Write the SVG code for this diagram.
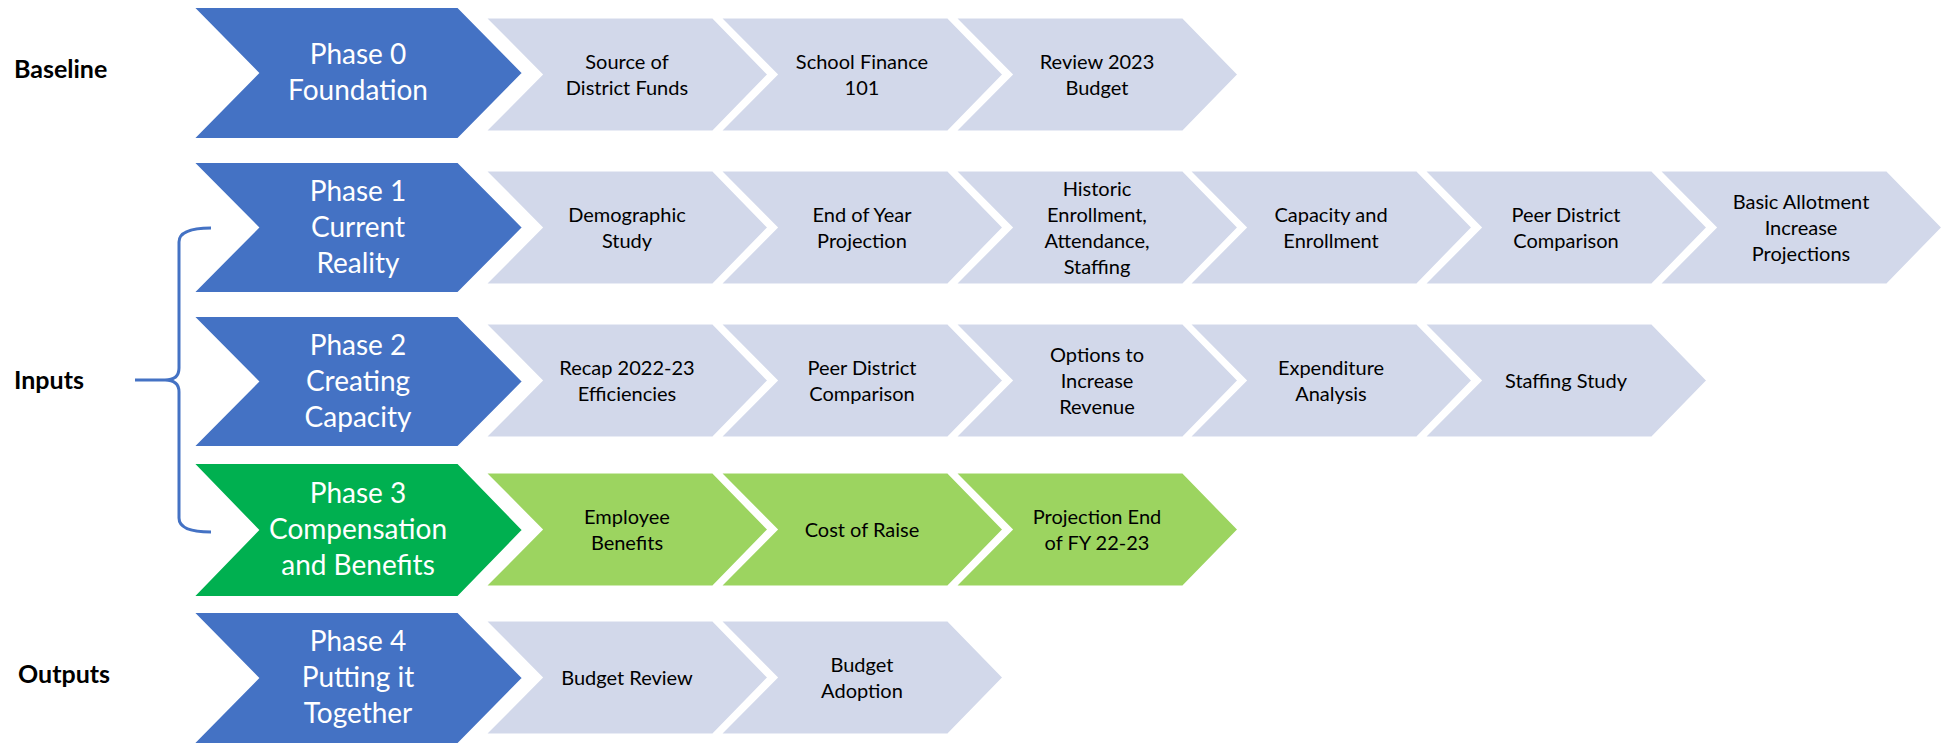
<svg xmlns="http://www.w3.org/2000/svg" width="1946" height="743" viewBox="0 0 1946 743">
<style>
.bg{fill:#ffffff}
.ph{fill:#4472C4;stroke:#ffffff;stroke-width:2}
.phg{fill:#00B050;stroke:#ffffff;stroke-width:2}
.st{fill:#D2D8EA;stroke:#ffffff;stroke-width:3}
.stg{fill:#9CD460;stroke:#ffffff;stroke-width:3}
.pt{font-family:Lato,"Open Sans","DejaVu Sans",sans-serif;font-size:28px;fill:#ffffff;text-anchor:middle}
.tt{font-family:Lato,"Open Sans","DejaVu Sans",sans-serif;font-size:20px;fill:#000000;text-anchor:middle}
.lb{font-family:Lato,"Liberation Sans",sans-serif;font-size:25px;font-weight:bold;fill:#000000}
.br{fill:none;stroke:#4472C4;stroke-width:3}
</style>
<rect class="bg" x="0" y="0" width="1946" height="743"/>
<g id="labels">
<text class="lb" x="14" y="78">Baseline</text>
<text class="lb" x="14" y="389">Inputs</text>
<text class="lb" x="18" y="683">Outputs</text>
</g>
<g id="connectors">
<path class="br" d="M211,228 Q179,228 179,242 L179,368 Q179,380 165,380 L135,380 M165,380 Q179,380 179,392 L179,518 Q179,532 211,532"/>
</g>
<!-- Row 0 -->
<g id="phase0">
<polygon class="ph" points="193,7 458,7 523,73 458,139 193,139 258,73"/>
<text class="pt" x="358" y="64">Phase 0</text>
<text class="pt" x="358" y="100">Foundation</text>
</g>
<g id="r0c0"><polygon class="st" points="484,17 713,17 769,74.5 713,132 484,132 541,74.5"/>
<text class="tt" x="627" y="68.5">Source of</text><text class="tt" x="627" y="94.5">District Funds</text></g>
<g id="r0c1"><polygon class="st" points="719,17 948,17 1004,74.5 948,132 719,132 776,74.5"/>
<text class="tt" x="862" y="68.5">School Finance</text><text class="tt" x="862" y="94.5">101</text></g>
<g id="r0c2"><polygon class="st" points="954,17 1183,17 1239,74.5 1183,132 954,132 1011,74.5"/>
<text class="tt" x="1097" y="68.5">Review 2023</text><text class="tt" x="1097" y="94.5">Budget</text></g>
<!-- Row 1 -->
<g id="phase1">
<polygon class="ph" points="193,162 458,162 523,227.5 458,293 193,293 258,227.5"/>
<text class="pt" x="358" y="201">Phase 1</text>
<text class="pt" x="358" y="237">Current</text>
<text class="pt" x="358" y="273">Reality</text>
</g>
<g id="r1c0"><polygon class="st" points="484,170 713,170 769,227.5 713,285 484,285 541,227.5"/>
<text class="tt" x="627" y="221.5">Demographic</text><text class="tt" x="627" y="247.5">Study</text></g>
<g id="r1c1"><polygon class="st" points="719,170 948,170 1004,227.5 948,285 719,285 776,227.5"/>
<text class="tt" x="862" y="221.5">End of Year</text><text class="tt" x="862" y="247.5">Projection</text></g>
<g id="r1c2"><polygon class="st" points="954,170 1183,170 1239,227.5 1183,285 954,285 1011,227.5"/>
<text class="tt" x="1097" y="195.5">Historic</text><text class="tt" x="1097" y="221.5">Enrollment,</text><text class="tt" x="1097" y="247.5">Attendance,</text><text class="tt" x="1097" y="273.5">Staffing</text></g>
<g id="r1c3"><polygon class="st" points="1188,170 1417,170 1473,227.5 1417,285 1188,285 1245,227.5"/>
<text class="tt" x="1331" y="221.5">Capacity and</text><text class="tt" x="1331" y="247.5">Enrollment</text></g>
<g id="r1c4"><polygon class="st" points="1423,170 1652,170 1708,227.5 1652,285 1423,285 1480,227.5"/>
<text class="tt" x="1566" y="221.5">Peer District</text><text class="tt" x="1566" y="247.5">Comparison</text></g>
<g id="r1c5"><polygon class="st" points="1658,170 1887,170 1943,227.5 1887,285 1658,285 1715,227.5"/>
<text class="tt" x="1801" y="208.5">Basic Allotment</text><text class="tt" x="1801" y="234.5">Increase</text><text class="tt" x="1801" y="260.5">Projections</text></g>
<!-- Row 2 -->
<g id="phase2">
<polygon class="ph" points="193,316 458,316 523,381.5 458,447 193,447 258,381.5"/>
<text class="pt" x="358" y="355">Phase 2</text>
<text class="pt" x="358" y="391">Creating</text>
<text class="pt" x="358" y="427">Capacity</text>
</g>
<g id="r2c0"><polygon class="st" points="484,323 713,323 769,380.5 713,438 484,438 541,380.5"/>
<text class="tt" x="627" y="374.5">Recap 2022-23</text><text class="tt" x="627" y="400.5">Efficiencies</text></g>
<g id="r2c1"><polygon class="st" points="719,323 948,323 1004,380.5 948,438 719,438 776,380.5"/>
<text class="tt" x="862" y="374.5">Peer District</text><text class="tt" x="862" y="400.5">Comparison</text></g>
<g id="r2c2"><polygon class="st" points="954,323 1183,323 1239,380.5 1183,438 954,438 1011,380.5"/>
<text class="tt" x="1097" y="361.5">Options to</text><text class="tt" x="1097" y="387.5">Increase</text><text class="tt" x="1097" y="413.5">Revenue</text></g>
<g id="r2c3"><polygon class="st" points="1188,323 1417,323 1473,380.5 1417,438 1188,438 1245,380.5"/>
<text class="tt" x="1331" y="374.5">Expenditure</text><text class="tt" x="1331" y="400.5">Analysis</text></g>
<g id="r2c4"><polygon class="st" points="1423,323 1652,323 1708,380.5 1652,438 1423,438 1480,380.5"/>
<text class="tt" x="1566" y="387.5">Staffing Study</text></g>
<!-- Row 3 -->
<g id="phase3">
<polygon class="phg" points="193,463 458,463 523,530 458,597 193,597 258,530"/>
<text class="pt" x="358" y="503">Phase 3</text>
<text class="pt" x="358" y="539">Compensation</text>
<text class="pt" x="358" y="575">and Benefits</text>
</g>
<g id="r3c0"><polygon class="stg" points="484,472 713,472 769,529.5 713,587 484,587 541,529.5"/>
<text class="tt" x="627" y="523.5">Employee</text><text class="tt" x="627" y="549.5">Benefits</text></g>
<g id="r3c1"><polygon class="stg" points="719,472 948,472 1004,529.5 948,587 719,587 776,529.5"/>
<text class="tt" x="862" y="536.5">Cost of Raise</text></g>
<g id="r3c2"><polygon class="stg" points="954,472 1183,472 1239,529.5 1183,587 954,587 1011,529.5"/>
<text class="tt" x="1097" y="523.5">Projection End</text><text class="tt" x="1097" y="549.5">of FY 22-23</text></g>
<!-- Row 4 -->
<g id="phase4">
<polygon class="ph" points="193,612 458,612 523,678 458,744 193,744 258,678"/>
<text class="pt" x="358" y="651">Phase 4</text>
<text class="pt" x="358" y="687">Putting it</text>
<text class="pt" x="358" y="723">Together</text>
</g>
<g id="r4c0"><polygon class="st" points="484,620 713,620 769,677.5 713,735 484,735 541,677.5"/>
<text class="tt" x="627" y="684.5">Budget Review</text></g>
<g id="r4c1"><polygon class="st" points="719,620 948,620 1004,677.5 948,735 719,735 776,677.5"/>
<text class="tt" x="862" y="671.5">Budget</text><text class="tt" x="862" y="697.5">Adoption</text></g>
</svg>
